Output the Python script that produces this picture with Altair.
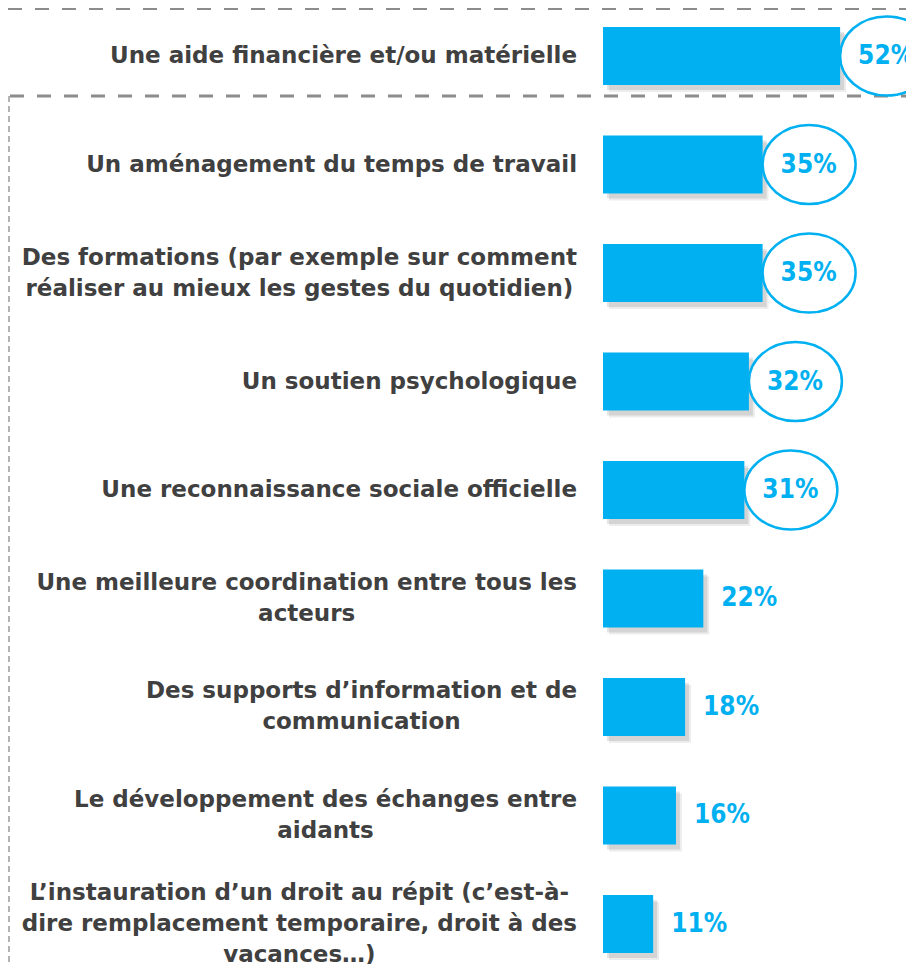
import glob
import altair as alt
import pandas as pd

categories = [
    "Une aide financière et/ou matérielle",
    "Un aménagement du temps de travail",
    "Des formations (par exemple sur comment\nréaliser au mieux les gestes du quotidien)",
    "Un soutien psychologique",
    "Une reconnaissance sociale officielle",
    "Une meilleure coordination entre tous les\nacteurs",
    "Des supports d’information et de\ncommunication",
    "Le développement des échanges entre\naidants",
    "L’instauration d’un droit au répit (c’est-à-\ndire remplacement temporaire, droit à des\nvacances…)",
]
values = [52, 35, 35, 32, 31, 22, 18, 16, 11]
circled = [True, True, True, True, True, False, False, False, False]

LABEL_SIZE = 23
LABEL_GAP = 26   # space between right edge of labels and bars
LINE_H = 31

# --- text measurement (to centre each multi-line label block, right-aligned as a block)
_W = {" ": 713, "(": 938, ")": 938, ",": 780, "-": 850, ".": 780, "/": 752,
      "’": 780, "…": 2048, "D": 1696, "L": 1305, "U": 1665,
      "a": 1382, "b": 1466, "c": 1214, "d": 1466, "e": 1389, "f": 891, "g": 1466,
      "h": 1458, "i": 702, "j": 702, "k": 1362, "l": 702, "m": 2134, "n": 1458,
      "o": 1407, "p": 1466, "q": 1466, "r": 1011, "s": 1219, "t": 979, "u": 1458,
      "v": 1335, "w": 1833, "x": 1309, "y": 1335, "z": 1212,
      "é": 1389, "è": 1389, "à": 1382}

_font = None
try:
    from PIL import ImageFont
    paths = glob.glob("/usr/share/fonts/**/DejaVuSans-Bold.ttf", recursive=True)
    if paths:
        _font = ImageFont.truetype(paths[0], LABEL_SIZE)
except Exception:
    _font = None


def text_width(s):
    if _font is not None:
        try:
            return _font.getlength(s)
        except Exception:
            pass
    return sum(_W.get(ch, 1300) for ch in s) / 2048 * LABEL_SIZE


block_w = [max(text_width(line) for line in c.split("\n")) for c in categories]

df = pd.DataFrame({
    "cat": categories,
    "value": values,
    "circled": circled,
    "label": [f"{v}%" for v in values],
    "cx": [-LABEL_GAP - w / 2 for w in block_w],
    "nlines": [c.count("\n") + 1 for c in categories],
})

BLUE = "#00B0F0"
GREY = "#404040"
DASH = "#8C8C8C"

PLOT_W = 303
x_scale = alt.Scale(domain=[0, PLOT_W / 4.56], nice=False, zero=True)
y_scale = alt.Scale(range=[19, 945], paddingInner=0.465, paddingOuter=0)

base = alt.Chart(df).encode(
    y=alt.Y("cat:N", sort=categories, scale=y_scale, axis=None),
)
xv = alt.X("value:Q", scale=x_scale, axis=None)

shadow1 = base.mark_bar(color="#000000", opacity=0.10, xOffset=4, yOffset=5).encode(x=xv)
shadow2 = base.mark_bar(color="#000000", opacity=0.07, xOffset=6, yOffset=7).encode(x=xv)
bars = base.mark_bar(color=BLUE).encode(x=xv)

ellipse_path = ("M -1 0 C -1 -0.4695 -0.5523 -0.85 0 -0.85 "
                "C 0.5523 -0.85 1 -0.4695 1 0 "
                "C 1 0.4695 0.5523 0.85 0 0.85 "
                "C -0.5523 0.85 -1 0.4695 -1 0 Z")
ellipses = base.transform_filter("datum.circled").mark_point(
    shape=ellipse_path, size=8649, filled=True, fill="white", stroke=BLUE,
    strokeWidth=2.5, opacity=1, xOffset=46.5,
).encode(x=xv)

vals = base.mark_text(
    align="left", baseline="middle", dx=18, fontSize=26, fontWeight="bold",
    font="DejaVu Sans Condensed, DejaVu Sans", color=BLUE,
).encode(x=xv, text="label:N")

label_layers = []
for n in sorted(set(df["nlines"])):
    label_layers.append(
        base.transform_filter(f"datum.nlines == {n}").mark_text(
            align="center", baseline="middle", lineBreak="\n", lineHeight=LINE_H,
            dy=-(n - 1) * LINE_H / 2,
            fontSize=LABEL_SIZE, fontWeight="bold", font="DejaVu Sans", color=GREY,
        ).encode(x=alt.X("cx:Q", scale=None, axis=None), text="cat:N")
    )

one = pd.DataFrame({"k": [0]})
top_line = alt.Chart(one).mark_rule(color=DASH, strokeWidth=3, strokeDash=[14, 13]).encode(
    x=alt.value(-595), x2=alt.value(PLOT_W), y=alt.value(0.5))
mid_line = alt.Chart(one).mark_rule(color=DASH, strokeWidth=3, strokeDash=[14, 13]).encode(
    x=alt.value(-593), x2=alt.value(PLOT_W), y=alt.value(88))
left_line = alt.Chart(one).mark_rule(color="#9A9A9A", strokeWidth=1.5, strokeDash=[6, 4]).encode(
    x=alt.value(-594), y=alt.value(88), y2=alt.value(956))

chart = alt.layer(
    top_line, mid_line, left_line, shadow2, shadow1, bars, ellipses, vals, *label_layers
).properties(
    width=PLOT_W, height=956,
    autosize=alt.AutoSizeParams(type="none"),
    padding={"left": 595, "top": 0, "right": 0, "bottom": 0},
).configure_view(stroke=None)

chart.save("out.html", embed_options={"renderer": "svg", "actions": False})
